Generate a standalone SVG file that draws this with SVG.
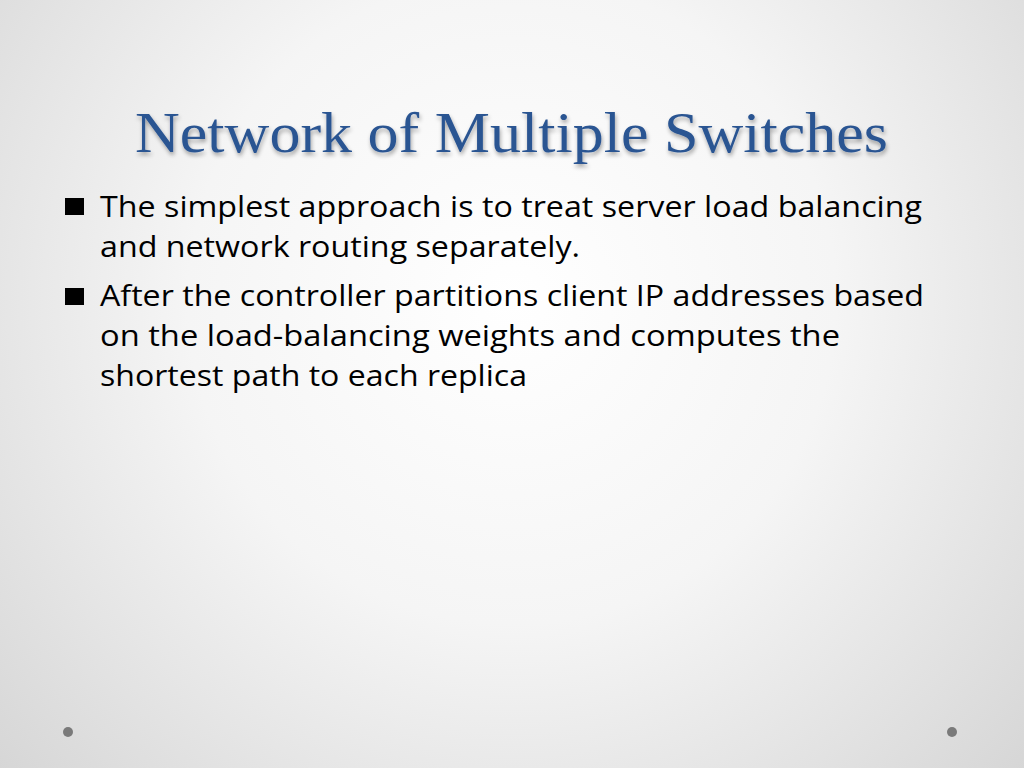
<svg xmlns="http://www.w3.org/2000/svg" width="1024" height="768" viewBox="0 0 1024 768">
<defs>
<radialGradient id="bg" cx="512" cy="300" r="720" gradientUnits="userSpaceOnUse">
<stop offset="0" stop-color="#ffffff"/>
<stop offset="0.45" stop-color="#f5f5f5"/>
<stop offset="1" stop-color="#d4d4d4"/>
</radialGradient>
<filter id="sh" x="-5%" y="-20%" width="110%" height="150%">
<feGaussianBlur in="SourceAlpha" stdDeviation="2"/>
<feOffset dx="1" dy="3" result="b"/>
<feComponentTransfer><feFuncA type="linear" slope="0.35"/></feComponentTransfer>
<feMerge><feMergeNode/><feMergeNode in="SourceGraphic"/></feMerge>
</filter>
<style>
.title{font-family:"Liberation Serif","Times New Roman",serif;font-size:56px;fill:#2b5592}
.body{font-family:"Open Sans","Noto Sans",sans-serif;font-size:29px;fill:#000}
.dot{fill:#7a7a7a}
</style>
</defs>
<rect width="1024" height="768" fill="url(#bg)"/>
<text class="title" x="135" y="152" textLength="753" lengthAdjust="spacingAndGlyphs" filter="url(#sh)">Network of Multiple Switches</text>
<g id="bullet1">
<rect x="65" y="198" width="19" height="17" fill="#000"/>
<text class="body" x="100" y="217" textLength="822" lengthAdjust="spacingAndGlyphs">The simplest approach is to treat server load balancing</text>
<text class="body" x="100" y="257" textLength="480" lengthAdjust="spacingAndGlyphs">and network routing separately.</text>
</g>
<g id="bullet2">
<rect x="65" y="288" width="19" height="17" fill="#000"/>
<text class="body" x="100" y="306" textLength="824" lengthAdjust="spacingAndGlyphs">After the controller partitions client IP addresses based</text>
<text class="body" x="100" y="346" textLength="740" lengthAdjust="spacingAndGlyphs">on the load-balancing weights and computes the</text>
<text class="body" x="100" y="386" textLength="427" lengthAdjust="spacingAndGlyphs">shortest path to each replica</text>
</g>
<circle class="dot" cx="68" cy="732" r="5"/>
<circle class="dot" cx="952" cy="732" r="5"/>
</svg>
